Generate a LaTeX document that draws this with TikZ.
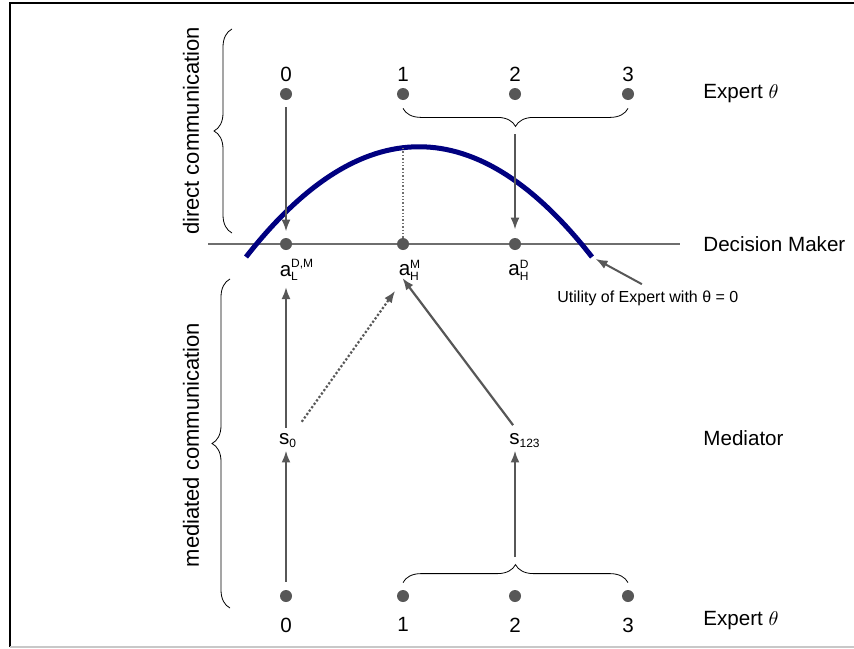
\documentclass[tikz,border=0pt]{standalone}
\usepackage{fontspec}
\setmainfont{Liberation Sans}
\usepackage{amsmath}
\usetikzlibrary{arrows.meta, positioning, decorations.pathreplacing}
\definecolor{dotGray}{HTML}{575757}
\definecolor{lineGray}{HTML}{6E6E6E}
\definecolor{utilBlue}{HTML}{000080}
\definecolor{frameGray}{HTML}{C8C8C8}
\newcommand{\idx}[1]{\text{\fontsize{6}{7}\selectfont #1}}

\begin{document}
\begin{tikzpicture}[x=0.5pt,y=-0.5pt,
    every node/.style={font=\fontsize{10.3}{12}\selectfont},
    dot/.style={circle,fill=dotGray,inner sep=0pt,minimum size=6pt},
    num/.style={inner sep=0pt},
    lbl/.style={inner sep=1pt},
    side/.style={anchor=west,inner sep=0pt},
    arr/.style={draw=dotGray,line width=1.1pt,-{Latex[length=6pt,width=4.5pt]}},
    brc/.style={decorate,decoration={brace,amplitude=9pt},draw=black,line width=0.4pt}]
  \useasboundingbox (0,0) rectangle (854,648);
  % frame
  \draw[line width=1pt] (10,647) -- (10,3) -- (854,3);
  \draw[frameGray,line width=1pt] (10,647) -- (854,647);
  % experts, top and bottom
  \foreach \i/\x in {0/286,1/403,2/515,3/628}{
    \node[dot] (t\i) at (\x,94) {};
    \node[num,above=3pt of t\i] {\i};
    \node[dot] (b\i) at (\x,596) {};
    \node[num,below=7.5pt of b\i] {\i};
  }
  \node[side] (expT) at (703,94) {Expert $\theta$};
  \node[side] (expB) at (703,621) {Expert $\theta$};
  % decision maker line
  \coordinate (dmL) at (208,244);
  \coordinate (dmR) at (680,244);
  \draw[lineGray,line width=0.7pt] (dmL) -- (dmR);
  \foreach \i/\x in {0/286,1/403,2/515}
    \node[dot] (d\i) at (\x,244) {};
  \node[side] (dm) at (703,244) {Decision Maker};
  % utility curve
  \coordinate (uStart) at (246,257);
  \coordinate (uEnd) at (592,257);
  \coordinate (peak) at (403,148);
  \draw[utilBlue,line width=2.5pt] (uStart) .. controls (361,110) and (477,110) .. (uEnd);
  \draw[lineGray,densely dotted,line width=0.7pt] (peak) -- (d1);
  % actions
  \node[lbl] (aL) at (297,270) {a$^{\idx{D,M}}_{\idx{L}}$};
  \node[lbl] (aHM) at (410,270) {a$^{\idx{M}}_{\idx{H}}$};
  \node[lbl] (aHD) at (519,270) {a$^{\idx{D}}_{\idx{H}}$};
  % mediator
  \node[lbl] (s0) at (288,441) {s$_{\idx{0}}$};
  \node[lbl] (s123) at (525,441) {s$_{\idx{123}}$};
  \node[side] (med) at (703,438) {Mediator};
  % braces
  \draw[brc] ([yshift=-4pt]t3.south) -- ([yshift=-4pt]t1.south);
  \coordinate (tipT) at (515,128);
  \draw[brc] ([yshift=3.5pt]b1.north) -- ([yshift=3.5pt]b3.north);
  \coordinate (tipB) at (515,565);
  \draw[brc] (232,233) -- (232,29);
  \draw[brc] (230,608) -- (230,279);
  \node[rotate=90,font=\fontsize{11}{13}\selectfont] (dcom) at (191,131) {direct communication};
  \node[rotate=90,font=\fontsize{11}{13}\selectfont] (mcom) at (191,445) {mediated communication};
  % direct communication
  \draw[arr,shorten <=3.5pt,shorten >=3pt] (t0) -- (d0);
  \draw[arr,shorten <=3pt,shorten >=4pt] (tipT) -- (d2);
  % mediated communication
  \draw[arr,shorten <=4pt] (b0) -- (b0 |- s0.south);
  \draw[arr,shorten <=4pt] (tipB) -- (tipB |- s123.south);
  \draw[arr,shorten <=2pt,shorten >=2pt] (s0.north -| d0) -- (aL.south -| d0);
  \draw[arr,densely dotted,shorten <=6pt,shorten >=5pt] (s0) -- (aHM);
  \draw[arr,shorten <=4pt,shorten >=5pt] (s123) -- (aHM.west);
  % utility label
  \node[side,font=\fontsize{8}{10}\selectfont] (util) at (557,298) {Utility of Expert with θ = 0};
  \draw[arr,line width=1pt,shorten >=2pt] ([xshift=-3pt,yshift=3pt]util.north) -- (uEnd);
\end{tikzpicture}
\end{document}
